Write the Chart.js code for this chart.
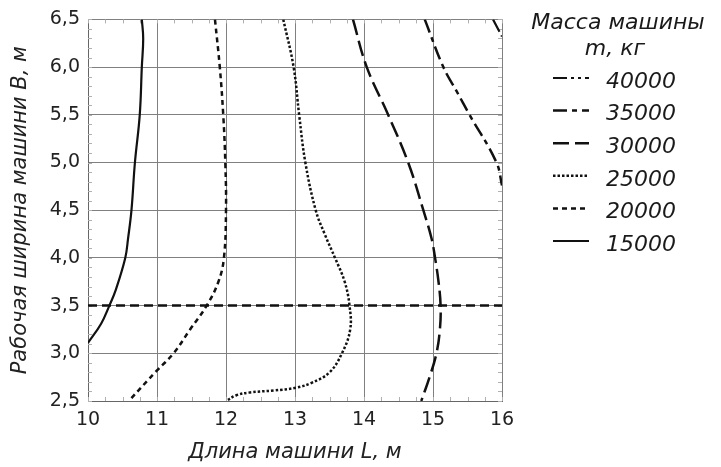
<!DOCTYPE html>
<html><head><meta charset="utf-8">
<script src="https://cdn.jsdelivr.net/npm/chart.js@4.4.1/dist/chart.umd.min.js"></script>
<style>html,body{margin:0;padding:0;background:#fff;overflow:hidden}#wrap{width:721px;height:467px}</style>
</head><body><div id="wrap"><canvas id="c" width="721" height="467"></canvas></div>
<script>
// ---- data (L = length of machine, B = working width) ----
const seriesLabels = ['40000', '35000', '30000', '25000', '20000', '15000'];
const legendTitle = ['Масса машины', 'm, кг'];
const xTitle = 'Длина машини L, м';
const yTitle = 'Рабочая ширина машини B, м';
const xTickLabels = ['10', '11', '12', '13', '14', '15', '16'];
const yTickLabels = ['2,5', '3,0', '3,5', '4,0', '4,5', '5,0', '5,5', '6,0', '6,5'];

const L40000 = [15.87, 16.0];
const B40000 = [6.5, 6.32];
const L35000 = [14.88, 15.15, 15.34, 15.53, 15.92, 16.0];
const B35000 = [6.5, 6.0, 5.75, 5.5, 5.0, 4.76];
const L30000 = [13.84, 14.04, 14.35, 14.64, 14.86, 14.98, 15.03, 15.08, 15.11, 15.10, 15.05, 14.95, 14.83];
const B30000 = [6.5, 6.0, 5.5, 5.0, 4.5, 4.2, 4.0, 3.75, 3.5, 3.25, 3.0, 2.75, 2.5];
const L25000 = [12.83, 12.98, 13.06, 13.15, 13.30, 13.43, 13.58, 13.72, 13.79, 13.80, 13.68, 13.5, 13.24, 13.02, 12.69, 12.35, 12.15, 12.0];
const B25000 = [6.5, 6.0, 5.5, 5.0, 4.5, 4.25, 4.0, 3.75, 3.5, 3.25, 3.0, 2.8, 2.69, 2.64, 2.61, 2.59, 2.56, 2.5];
const L20000 = [11.84, 11.91, 11.96, 11.99, 12.0, 11.97, 11.89, 11.72, 11.48, 11.24, 11.0, 10.59];
const B20000 = [6.5, 6.0, 5.5, 5.0, 4.5, 4.0, 3.75, 3.5, 3.25, 3.0, 2.82, 2.5];
const L15000 = [10.78, 10.80, 10.78, 10.75, 10.68, 10.63, 10.58, 10.54, 10.40, 10.31, 10.19, 10.0];
const B15000 = [6.5, 6.3, 6.0, 5.5, 5.0, 4.5, 4.2, 4.0, 3.66, 3.5, 3.31, 3.11];
const Lcut = [10, 16];
const Bcut = [3.5, 3.5];

// ---- styles ----
const dashes = [[14, 4, 3, 4, 3, 4], [14, 5, 5, 5], [16, 6], [2.5, 2], [5, 4], []];
const widths = [2.2, 2.5, 2.5, 2.5, 2.5, 2.2];

const seriesL = [L40000, L35000, L30000, L25000, L20000, L15000];
const seriesB = [B40000, B35000, B30000, B25000, B20000, B15000];
const pts = (xs, ys) => xs.map((x, i) => ({x: x, y: ys[i]}));

const datasets = seriesLabels.map((lab, i) => ({
  label: lab,
  data: pts(seriesL[i], seriesB[i]),
  showLine: true,
  borderColor: '#111',
  borderWidth: widths[i],
  borderDash: dashes[i],
  pointRadius: 0,
  tension: 0.4,
  fill: false
}));
datasets.push({
  label: '',
  data: pts(Lcut, Bcut),
  showLine: true,
  borderColor: '#111',
  borderWidth: 2.5,
  borderDash: [9, 5],
  pointRadius: 0,
  tension: 0
});

const FONT = '"DejaVu Sans", "Liberation Sans", sans-serif';

const minorTicks = {
  id: 'minorTicks',
  beforeDatasetsDraw(chart) {
    const {ctx, chartArea: a, scales: {x, y}} = chart;
    ctx.save();
    ctx.strokeStyle = '#b0b0b0';
    ctx.lineWidth = 1;
    ctx.beginPath();
    for (let v = x.min; v <= x.max + 1e-9; v += 0.25) {
      const px = Math.round(x.getPixelForValue(v)) + 0.5;
      ctx.moveTo(px, a.bottom); ctx.lineTo(px, a.bottom - 4);
      ctx.moveTo(px, a.top); ctx.lineTo(px, a.top + 4);
    }
    for (let v = y.min; v <= y.max + 1e-9; v += 0.1) {
      const py = Math.round(y.getPixelForValue(v)) + 0.5;
      ctx.moveTo(a.left, py); ctx.lineTo(a.left + 4, py);
      ctx.moveTo(a.right, py); ctx.lineTo(a.right - 4, py);
    }
    ctx.stroke();
    ctx.restore();
  }
};

const massLegend = {
  id: 'massLegend',
  afterDraw(chart) {
    const ctx = chart.ctx;
    ctx.save();
    ctx.fillStyle = '#1a1a1a';
    ctx.font = 'italic 22px ' + FONT;
    ctx.textAlign = 'center';
    ctx.textBaseline = 'middle';
    ctx.fillText(legendTitle[0], 618, 23);
    ctx.fillText(legendTitle[1], 615, 49);
    ctx.textAlign = 'left';
    chart.data.datasets.forEach((ds, i) => {
      if (!ds.label) return;
      const cy = 82 + i * 32.6;
      ctx.save();
      ctx.strokeStyle = ds.borderColor;
      ctx.lineWidth = ds.borderWidth;
      ctx.setLineDash(ds.borderDash);
      ctx.beginPath();
      ctx.moveTo(553, cy - 4);
      ctx.lineTo(589, cy - 4);
      ctx.stroke();
      ctx.restore();
      ctx.fillText(ds.label, 606, cy);
    });
    ctx.restore();
  }
};

new Chart(document.getElementById('c'), {
  type: 'scatter',
  data: {datasets: datasets},
  plugins: [minorTicks, massLegend],
  options: {
    responsive: false,
    devicePixelRatio: 1,
    animation: false,
    layout: {padding: {top: 19, right: 219, bottom: 0, left: 0}},
    plugins: {legend: {display: false}, tooltip: {enabled: false}},
    scales: {
      x: {
        type: 'linear', min: 10, max: 16,
        afterFit(s) { s.height = 66; },
        ticks: {
          stepSize: 1, padding: 8, color: '#222',
          font: {family: FONT, size: 19},
          callback: (v, i) => xTickLabels[i]
        },
        grid: {color: '#808080', lineWidth: 1, drawTicks: false},
        border: {color: '#666', width: 1},
        title: {display: true, text: xTitle, color: '#222',
          font: {family: FONT, size: 21, style: 'italic'}, padding: {top: 0, bottom: 2}}
      },
      y: {
        type: 'linear', min: 2.5, max: 6.5,
        afterFit(s) { s.width = 88; },
        ticks: {
          stepSize: 0.5, padding: 8, color: '#222',
          font: {family: FONT, size: 19},
          callback: (v, i) => yTickLabels[i]
        },
        grid: {color: '#808080', lineWidth: 1, drawTicks: false},
        border: {color: '#666', width: 1},
        title: {display: true, text: yTitle, color: '#222',
          font: {family: FONT, size: 21, style: 'italic'}, padding: {top: 8, bottom: 0}}
      }
    }
  }
});
</script></body></html>
